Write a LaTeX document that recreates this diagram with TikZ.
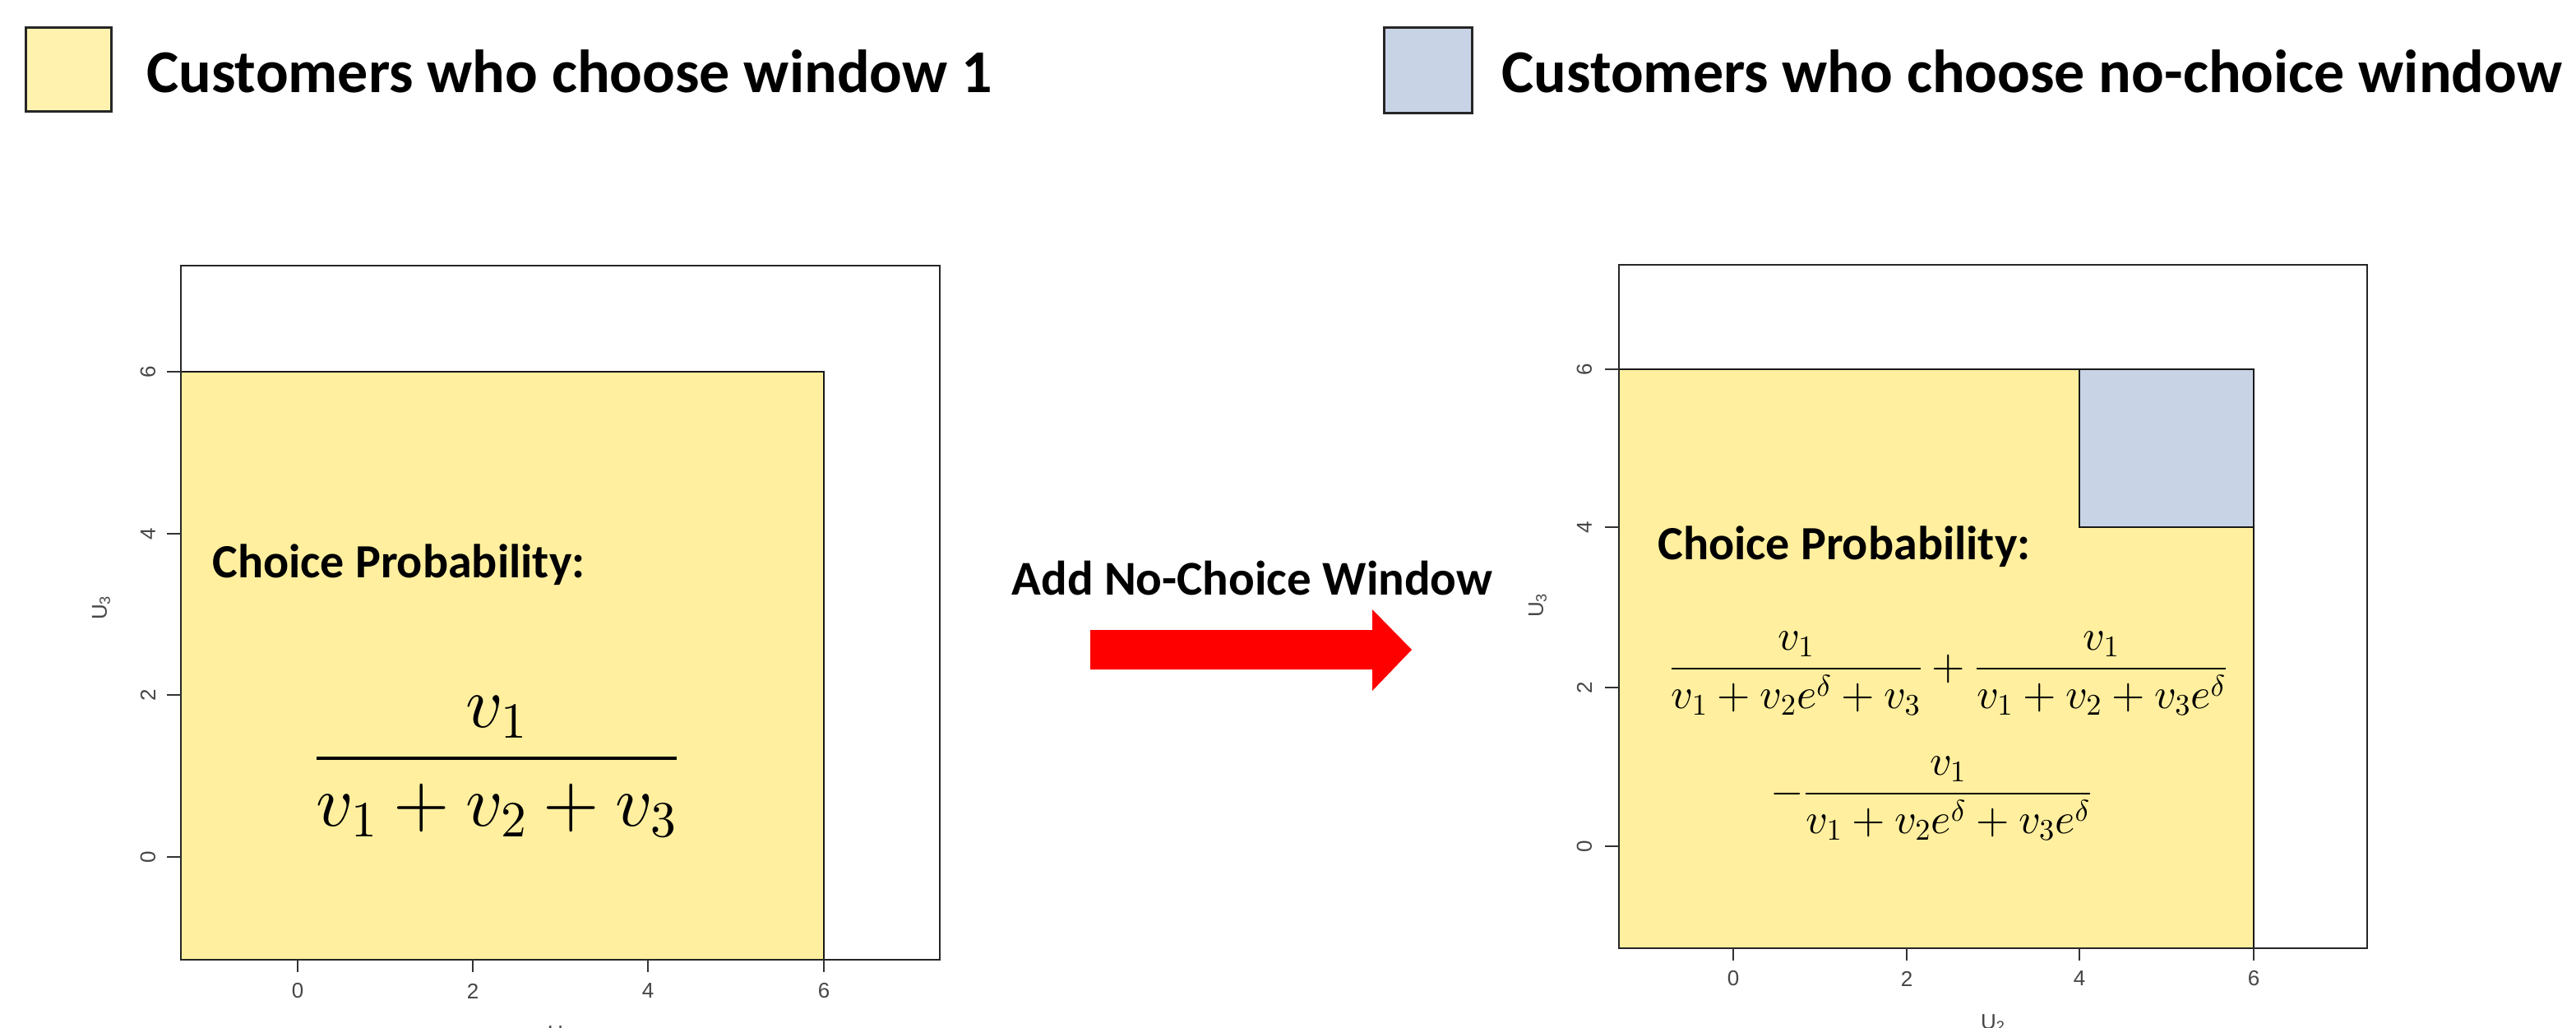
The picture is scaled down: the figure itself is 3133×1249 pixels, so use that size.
\documentclass[tikz,border=0pt]{standalone}
\usepackage[no-math]{fontspec}
\setmainfont{Carlito}
\newfontfamily\axisfont{Liberation Sans}
\DeclareFontShape{OML}{cmm}{m}{it}{<->cmmi10}{}
\DeclareFontShape{OT1}{cmr}{m}{n}{<->cmr10}{}
\DeclareFontShape{OMS}{cmsy}{m}{n}{<->cmsy10}{}
\DeclareFontShape{OMX}{cmex}{m}{n}{<->cmex10}{}
\definecolor{plotyellow}{RGB}{255,239,158}
\definecolor{legyellow}{RGB}{255,242,175}
\definecolor{chblue}{RGB}{200,212,230}
\definecolor{axisgray}{RGB}{70,70,70}
\begin{document}
\begin{tikzpicture}[x=0.5pt,y=-0.5pt,
  plotframe/.style={draw=black!85, line width=1.2pt},
  regionline/.style={draw=black!90, line width=1.2pt},
  tickmark/.style={draw=black!80, line width=1pt},
  ticklabel/.style={font=\axisfont\fontsize{13}{15}\selectfont, text=axisgray, inner sep=0pt},
  legbox/.style={draw=black!85, line width=1.3pt, inner sep=0pt, anchor=north west},
  legtext/.style={font=\fontsize{37}{44}\selectfont\bfseries, inner sep=0pt, anchor=base west},
  cptext/.style={font=\fontsize{29}{35}\selectfont\bfseries, inner sep=0pt, anchor=base west},
  arrowtext/.style={font=\fontsize{29.5}{35}\selectfont\bfseries, inner sep=0pt, anchor=base},
  mathbig/.style={font=\fontsize{44}{52}\selectfont, inner sep=0pt, anchor=base},
  mathsmall/.style={font=\fontsize{26}{31}\selectfont, inner sep=0pt, anchor=base}]
\clip (0,0) rectangle (3133,1249);
\fill[white] (0,0) rectangle (3133,1249);

% ---------- legend ----------
\node[legbox, fill=legyellow, minimum width=52pt, minimum height=51pt] (legbox1) at (30,32) {};
\node[legtext] (legtext1) at (178,112) {Customers who choose window 1};
\node[legbox, fill=chblue, minimum width=53.5pt, minimum height=52pt] (legbox2) at (1682,32) {};
\node[legtext] (legtext2) at (1826,112) {Customers who choose no-choice window};

% ---------- left plot ----------
\fill[plotyellow] (220,452) rectangle (1002,1167);
\draw[regionline] (220,452) -- (1002,452) -- (1002,1167);
\draw[plotframe] (220,323) rectangle (1143,1167);
\foreach \yy/\lab in {452/6, 649/4, 845/2, 1042/0} {
  \draw[tickmark] (203,\yy) -- (220,\yy);
  \node[ticklabel, rotate=90] at (180,\yy) {\lab};
}
\foreach \xx/\lab in {362/0, 575/2, 788/4, 1002/6} {
  \draw[tickmark] (\xx,1167) -- (\xx,1182);
  \node[ticklabel] at (\xx,1205) {\lab};
}
\node[ticklabel, rotate=90] (leftylab) at (123,739) {U\textsubscript{3}};
\node[ticklabel] (leftxlab) at (681,1258) {U\textsubscript{2}};

\node[cptext] (cpleft) at (258,702) {Choice Probability:};
\node[mathbig] (formleft) at (604,944) {$\displaystyle\frac{v_1}{v_1+v_2+v_3}$};

% ---------- arrow ----------
\node[arrowtext] (addtext) at (1523,723) {Add No-Choice Window};
\coordinate (arrowtail) at (1326,790);
\coordinate (arrowtip) at (1717,790);
\fill[red] (arrowtail) ++(0,-24) -- (1669,766) -- (1669,741) -- (arrowtip) -- (1669,840) -- (1669,814) -- (1326,814) -- cycle;

% ---------- right plot ----------
\fill[plotyellow] (1969,449) rectangle (2741,1153);
\fill[chblue] (2529,449) rectangle (2741,641);
\draw[regionline] (1969,449) -- (2741,449) -- (2741,1153);
\draw[regionline] (2529,449) -- (2529,641) -- (2741,641);
\draw[plotframe] (1969,322) rectangle (2879,1153);
\foreach \yy/\lab in {449/6, 641/4, 836/2, 1029/0} {
  \draw[tickmark] (1952,\yy) -- (1969,\yy);
  \node[ticklabel, rotate=90] at (1927,\yy) {\lab};
}
\foreach \xx/\lab in {2108/0, 2319/2, 2529/4, 2741/6} {
  \draw[tickmark] (\xx,1153) -- (\xx,1168);
  \node[ticklabel] at (\xx,1190) {\lab};
}
\node[ticklabel, rotate=90] (rightylab) at (1870,736) {U\textsubscript{3}};
\node[ticklabel] (rightxlab) at (2424,1244) {U\textsubscript{2}};

\node[cptext] (cpright) at (2016,680) {Choice Probability:};
\node[mathsmall] (formright1) at (2370,826) {$\displaystyle\frac{v_1}{v_1+v_2e^{\delta}+v_3}+\frac{v_1}{v_1+v_2+v_3e^{\delta}}$};
\node[mathsmall] (formright2) at (2349,978) {$\displaystyle-\frac{v_1}{v_1+v_2e^{\delta}+v_3e^{\delta}}$};
\end{tikzpicture}
\end{document}
